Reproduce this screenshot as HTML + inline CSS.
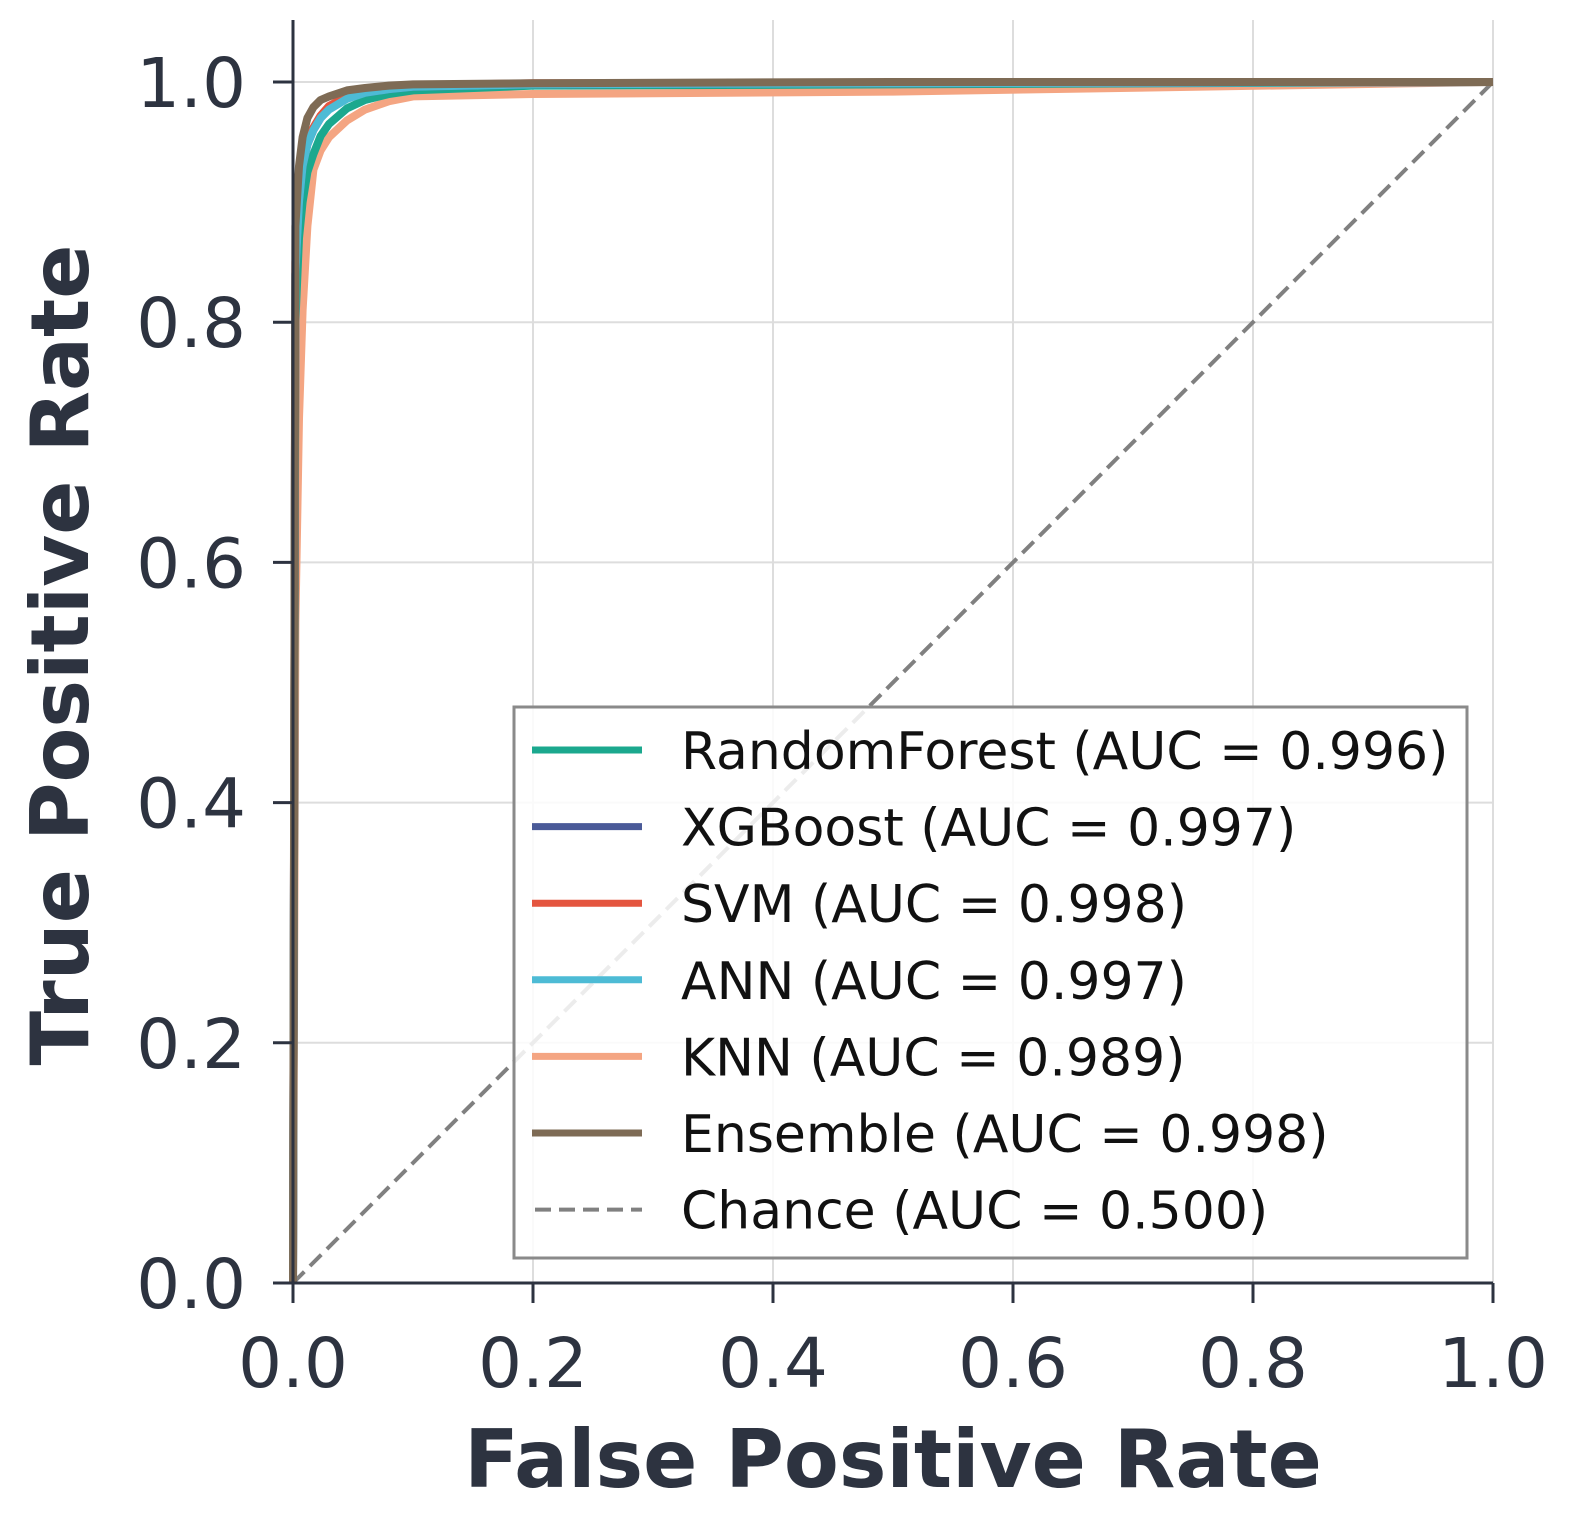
<!DOCTYPE html>
<html><head><meta charset="utf-8"><style>
html,body{margin:0;padding:0;background:#fff;}
svg{display:block;font-family:"DejaVu Sans","Liberation Sans",sans-serif;}
</style></head><body>
<svg id="chart" width="1577" height="1539" viewBox="0 0 1577 1539">
<g id="grid"></g>
<g id="curves"></g>
<g id="axes"></g>
<g id="legend"></g>
<text x="893" y="1487" text-anchor="middle" font-size="80" font-weight="bold" fill="#2d3340">False Positive Rate</text>
<text transform="translate(88,655) rotate(-90)" text-anchor="middle" font-size="80" font-weight="bold" fill="#2d3340">True Positive Rate</text>
</svg>
<script>
const ticks = [0, 0.2, 0.4, 0.6, 0.8, 1.0];
const tickLabels = ["0.0", "0.2", "0.4", "0.6", "0.8", "1.0"];
const seriesNames = ["RandomForest", "XGBoost", "SVM", "ANN", "KNN", "Ensemble"];
const seriesAUC = ["0.996", "0.997", "0.998", "0.997", "0.989", "0.998"];
const seriesColors = ["#1ba88e", "#4a5a98", "#e4553f", "#4dbbd5", "#f4a582", "#7e6b55"];
const fpr = [0, 0.002, 0.005, 0.008, 0.012, 0.017, 0.023, 0.03, 0.045, 0.06, 0.08, 0.1, 0.2, 0.5, 1.0];
const tprRF = [0, 0.80, 0.87, 0.90, 0.925, 0.94, 0.955, 0.965, 0.978, 0.985, 0.99, 0.993, 0.997, 0.998, 1.0];
const tprXGB = [0, 0.84, 0.90, 0.93, 0.948, 0.96, 0.97, 0.978, 0.987, 0.991, 0.994, 0.996, 0.998, 0.999, 1.0];
const tprSVM = [0, 0.85, 0.91, 0.935, 0.952, 0.962, 0.972, 0.98, 0.988, 0.992, 0.995, 0.997, 0.999, 0.999, 1.0];
const tprANN = [0, 0.84, 0.90, 0.93, 0.948, 0.96, 0.97, 0.977, 0.986, 0.991, 0.994, 0.996, 0.998, 0.999, 1.0];
const tprKNN = [0, 0.55, 0.72, 0.81, 0.88, 0.927, 0.943, 0.954, 0.968, 0.977, 0.984, 0.988, 0.99, 0.992, 1.0];
const tprEns = [0, 0.88, 0.93, 0.954, 0.97, 0.979, 0.985, 0.988, 0.993, 0.995, 0.997, 0.998, 0.999, 1.0, 1.0];
const allTpr = [tprRF, tprXGB, tprSVM, tprANN, tprKNN, tprEns];
const chance = [0, 1];

const NS = "http://www.w3.org/2000/svg";
const X0 = 293, X1 = 1493, Y0 = 1283, Y1 = 82;
function sx(v){ return X0 + v*(X1-X0); }
function sy(v){ return Y0 - v*(Y0-Y1); }
function mk(tag, attrs, parent){ const e=document.createElementNS(NS,tag); for(const k in attrs) e.setAttribute(k,attrs[k]); parent.appendChild(e); return e; }

const grid = document.getElementById('grid');
const axes = document.getElementById('axes');
ticks.forEach((t,i)=>{
  const gv = mk('line',{x1:sx(t),x2:sx(t),y1:20,y2:Y0,stroke:'#dddddd','stroke-width':2},grid);
  
  
  const gh = mk('line',{x1:X0,x2:X1,y1:sy(t),y2:sy(t),stroke:'#dddddd','stroke-width':2},grid);
  
  
  const tx = mk('line',{x1:sx(t),x2:sx(t),y1:Y0,y2:Y0+20,stroke:'#2d3340','stroke-width':3},axes);
  
  
  const ty = mk('line',{x1:X0-20,x2:X0,y1:sy(t),y2:sy(t),stroke:'#2d3340','stroke-width':3},axes);
  
  
  const lx = mk('text',{x:sx(t),y:1387,'text-anchor':'middle','font-size':69,fill:'#2d3340'},axes);
  lx.textContent = tickLabels[i];
  
  
  const ly = mk('text',{x:246,y:sy(t)+25,'text-anchor':'end','font-size':69,fill:'#2d3340'},axes);
  ly.textContent = tickLabels[i];
  
  
});
const sl = mk('line',{x1:X0,x2:X0,y1:20,y2:Y0+1,stroke:'#2d3340','stroke-width':3},axes);


const sb = mk('line',{x1:X0-1,x2:X1,y1:Y0,y2:Y0,stroke:'#2d3340','stroke-width':3},axes);



const curves = document.getElementById('curves');
const ch = mk('line',{x1:sx(chance[0]),y1:sy(chance[0]),x2:sx(chance[1]),y2:sy(chance[1]),stroke:'#808080','stroke-width':4,'stroke-dasharray':'16 8'},curves);


const order = [4,0,1,2,3,5];
order.forEach(i=>{
  const d = fpr.map((f,j)=>(j?'L':'M')+sx(f).toFixed(1)+','+sy(allTpr[i][j]).toFixed(1)).join(' ');
  const p = mk('path',{d:d,fill:'none',stroke:seriesColors[i],'stroke-width':8,'stroke-linejoin':'round'},curves);
  
  
});

const lg = document.getElementById('legend');
const box = mk('rect',{x:514,y:707,width:953,height:551,fill:'rgba(255,255,255,0.85)',stroke:'#8a8a8a','stroke-width':3},lg);


const labels = seriesNames.map((n,i)=>n+' (AUC = '+seriesAUC[i]+')').concat(['Chance (AUC = 0.500)']);
labels.forEach((lab,i)=>{
  const y = 750 + i*76.6;
  const g = mk('g',{},lg);
  
  
  if(i<6) mk('line',{x1:532,x2:642,y1:y,y2:y,stroke:seriesColors[i],'stroke-width':7},g);
  else mk('line',{x1:535,x2:642,y1:y,y2:y,stroke:'#808080','stroke-width':4,'stroke-dasharray':'16 8'},g);
  const t = mk('text',{x:681,y:y+19,'font-size':52,fill:'#111'},g);
  t.textContent = lab;
});
</script>
</body></html>
